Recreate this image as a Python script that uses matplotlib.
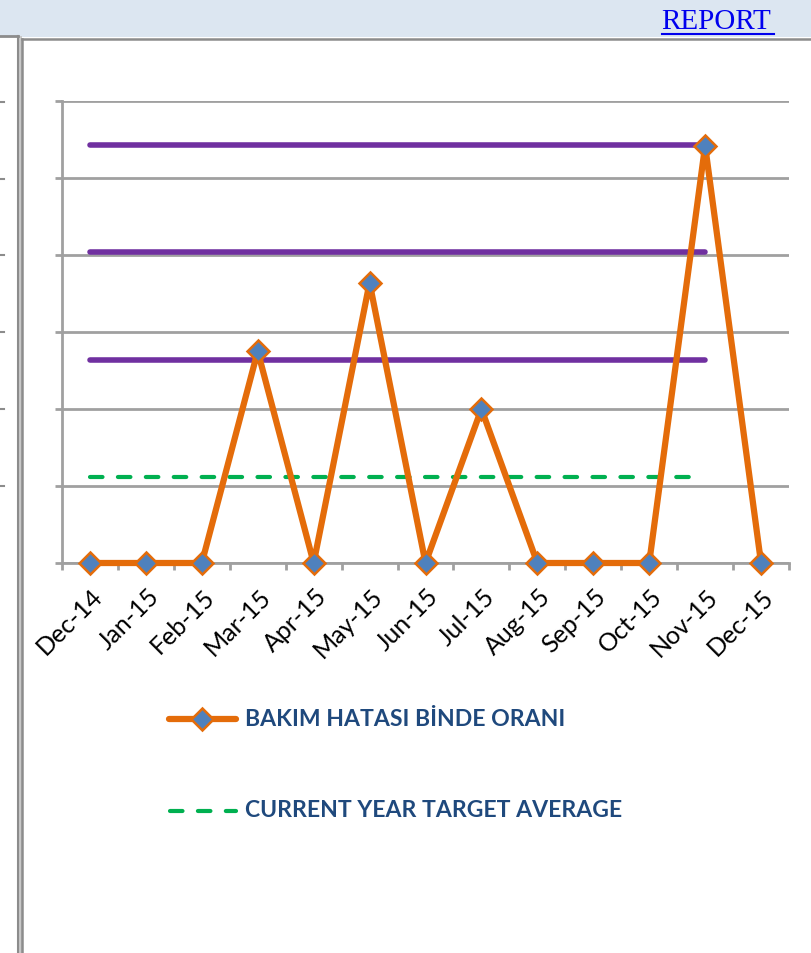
import matplotlib
matplotlib.use("Agg")
import matplotlib.pyplot as plt
from matplotlib.lines import Line2D
from matplotlib.patches import Rectangle
from matplotlib.transforms import ScaledTranslation

# ---- data ----
months = ["Dec-14", "Jan-15", "Feb-15", "Mar-15", "Apr-15", "May-15", "Jun-15",
          "Jul-15", "Aug-15", "Sep-15", "Oct-15", "Nov-15", "Dec-15"]
bakim = [0, 0, 0, 2.75, 0, 3.64, 0, 2.0, 0, 0, 0, 5.42, 0]
limit_levels = [5.43, 4.04, 2.64]          # purple horizontal reference lines
limit_span = (0, 11)                       # Dec-14 .. Nov-15
target_avg = 1.12
target_span = (0, 10.75)
y_ticks = [0, 1, 2, 3, 4, 5, 6]
legend_labels = ["BAKIM HATASI BİNDE ORANI", "CURRENT YEAR TARGET AVERAGE"]

W, H = 812, 954
fig = plt.figure(figsize=(W / 100, H / 100), dpi=100)
fig.patch.set_facecolor("white")

def fx(px):
    return px / W

def fy(py):
    return 1 - py / H

# ---- page chrome ----
fig.add_artist(Rectangle((0, fy(38)), 1, 38 / H, transform=fig.transFigure,
                         facecolor="#dce6f1", edgecolor="none", zorder=0))
fig.text(fx(661), fy(22), "REPORT", family=["Liberation Serif"], fontsize=21,
         color="#0000ee", ha="left", va="center")
fig.add_artist(Line2D([fx(662), fx(774)], [fy(35), fy(35)], color="#0000ee", lw=1.5))

# left neighbouring panel border
fig.add_artist(Line2D([0, fx(18)], [fy(37), fy(37)], color="#8c8c8c", lw=2))
fig.add_artist(Rectangle((fx(17), 0), 5 / W, fy(37), transform=fig.transFigure,
                         facecolor="#c8c8c8", edgecolor="none"))
fig.add_artist(Line2D([fx(17.5), fx(17.5)], [0, fy(37)], color="#8c8c8c", lw=1.5))
fig.add_artist(Line2D([fx(22), fx(22)], [0, fy(40)], color="#8c8c8c", lw=1.8))
fig.add_artist(Line2D([fx(22), 1], [fy(40), fy(40)], color="#8c8c8c", lw=1.8))
# ticks of neighbouring chart
for yy in [103, 180, 256, 333, 410, 487]:
    fig.add_artist(Line2D([0, fx(4)], [fy(yy), fy(yy)], color="#8c8c8c", lw=1.5))

# ---- chart axes ----
left, right, top, bottom = 62, 789, 102, 564
ax = fig.add_axes([fx(left), fy(bottom), (right - left) / W, (bottom - top) / H])
ax.set_facecolor("none")
x = list(range(len(months)))
ax.set_xlim(-0.5, len(months) - 0.5)
ax.set_ylim(y_ticks[0], y_ticks[-1])

grid_c = "#a0a0a0"
for s in ["top", "right"]:
    ax.spines[s].set_visible(False)
ax.spines["left"].set_color(grid_c)
ax.spines["left"].set_linewidth(2)
ax.spines["bottom"].set_color(grid_c)
ax.spines["bottom"].set_linewidth(2)

ax.set_yticks(y_ticks)
ax.set_yticklabels([])
ax.yaxis.grid(True, color=grid_c, lw=2)
ax.tick_params(axis="y", direction="out", length=5, width=2, color=grid_c)

ax.set_xticks(x)
ax.set_xticklabels(months, rotation=45, ha="right", va="top", rotation_mode="anchor",
                   family=["Lato"], fontsize=18, color="black")
ax.set_xticks([i - 0.5 for i in range(len(months) + 1)], minor=True)
ax.tick_params(axis="x", which="major", length=0, pad=15)
ax.tick_params(axis="x", which="minor", direction="out", length=5, width=2, color=grid_c)
for lbl in ax.get_xticklabels():
    lbl.set_transform(lbl.get_transform() + ScaledTranslation(1 / 100, 0, fig.dpi_scale_trans))
ax.set_axisbelow(True)

purple = "#7030a0"
orange = "#e46c0a"
blue = "#4f81bd"
green = "#00b050"

for lv in limit_levels:
    ax.plot(limit_span, [lv, lv], color=purple, lw=4, solid_capstyle="round", zorder=3)
ax.plot(target_span, [target_avg, target_avg], color=green, lw=3, dashes=(3.0, 3.7),
        dash_capstyle="round", zorder=3)
ax.plot(x, bakim, color=orange, lw=4.5, marker="D", markersize=11,
        markerfacecolor=blue, markeredgecolor=orange, markeredgewidth=1.8,
        zorder=4, clip_on=False)

# ---- legend (drawn manually) ----
fig.add_artist(Line2D([fx(169), fx(236)], [fy(720), fy(720)], color=orange, lw=4.5,
                      solid_capstyle="round"))
fig.add_artist(Line2D([fx(202)], [fy(720)], marker="D", markersize=11,
                      markerfacecolor=blue, markeredgecolor=orange, markeredgewidth=1.8))
fig.text(fx(245), fy(720), legend_labels[0], family=["Lato"], fontweight="bold",
         fontsize=16.6, color="#1f497d", ha="left", va="center")
fig.add_artist(Line2D([fx(170), fx(236)], [fy(812), fy(812)], color=green, lw=3,
                      dashes=(3.0, 3.7), dash_capstyle="round"))
fig.text(fx(245), fy(811), legend_labels[1], family=["Lato"], fontweight="bold",
         fontsize=16.6, color="#1f497d", ha="left", va="center")

fig.savefig("out.png", dpi=100)
